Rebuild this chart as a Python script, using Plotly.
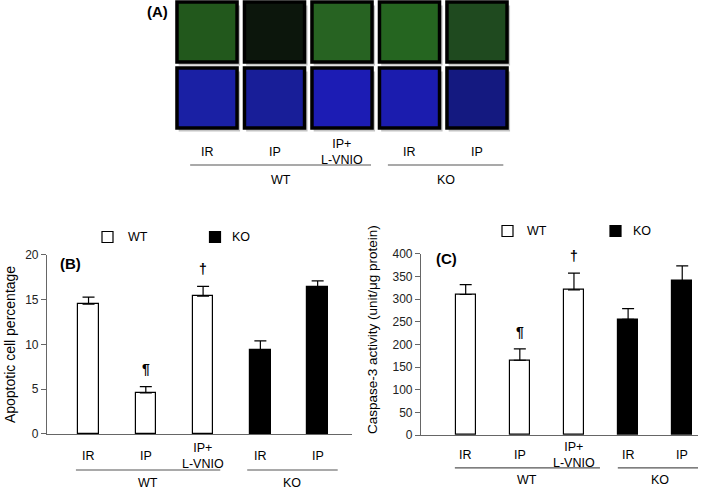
import plotly.graph_objects as go

# panel B / C data
groups = ["IR", "IP", "IP+<br>L-VNIO", "IR", "IP"]
strain = ["WT", "WT", "WT", "KO", "KO"]

apoptosis = [14.5, 4.6, 15.4, 9.4, 16.4]
apoptosis_err = [0.8, 0.7, 1.1, 1.0, 0.7]

caspase = [310, 165, 320, 255, 340]
caspase_err = [22, 25, 37, 24, 33]

# significance marks (bar index, symbol)
marks = [(1, "¶"), (2, "†")]

fills = ["white" if s == "WT" else "black" for s in strain]
FONT = "Liberation Sans, Arial, sans-serif"
xs = list(range(len(groups)))

fig = go.Figure()

fig.add_trace(go.Bar(
    x=xs, y=apoptosis, width=0.36,
    marker=dict(color=fills, line=dict(color="black", width=1.2)),
    error_y=dict(type="data", array=apoptosis_err, arrayminus=[0] * 5, symmetric=False,
                 color="black", thickness=1.2, width=6),
    xaxis="x", yaxis="y", showlegend=False,
))
fig.add_trace(go.Bar(
    x=xs, y=caspase, width=0.37,
    marker=dict(color=fills, line=dict(color="black", width=1.2)),
    error_y=dict(type="data", array=caspase_err, arrayminus=[0] * 5, symmetric=False,
                 color="black", thickness=1.2, width=6),
    xaxis="x2", yaxis="y2", showlegend=False,
))

axis_common = dict(showgrid=False, zeroline=False, showline=True, linecolor="#666",
                   linewidth=1.2, automargin=False,
                   tickfont=dict(family=FONT, size=12, color="#222"))

fig.update_layout(
    width=710, height=491,
    margin=dict(l=0, r=0, t=0, b=0, autoexpand=False),
    paper_bgcolor="white", plot_bgcolor="white",
    bargap=0,
    xaxis=dict(domain=[0.0662, 0.4958], range=[-0.725, 4.6], showticklabels=False,
               ticks="", anchor="y", **axis_common),
    yaxis=dict(domain=[0.1161, 0.4807], range=[0, 20], tickvals=[0, 5, 10, 15, 20],
               ticks="outside", ticklen=5, tickcolor="#666", anchor="x",
               title=dict(text="Apoptotic cell percentage", standoff=6,
                          font=dict(family=FONT, size=14, color="black")),
               **axis_common),
    xaxis2=dict(domain=[0.593, 0.983], range=[-0.825, 4.29], showticklabels=False,
                ticks="", anchor="y2", **axis_common),
    yaxis2=dict(domain=[0.114, 0.4833], range=[0, 400], dtick=50,
                ticks="outside", ticklen=5, tickcolor="#666", anchor="x2",
                **axis_common),
    xaxis3=dict(domain=[0, 1], range=[-3.067, 7.452], visible=False, anchor="y3",
                automargin=False),
    yaxis3=dict(domain=[0.7, 1], range=[0, 1], visible=False, anchor="x3",
                automargin=False),
    font=dict(family=FONT, color="black"),
)

shapes = []
annotations = []
TXT = dict(size=12.5, color="black")

# panel C y-axis title sits a bit above the axis middle in the original
annotations.append(dict(x=372 / 710, y=1 - 330 / 491, xref="paper", yref="paper",
                        text="Caspase-3 activity (unit/μg protein)", textangle=-90,
                        showarrow=False, font=dict(family=FONT, size=13.5, color="black"),
                        xanchor="center", yanchor="middle"))


def label_block(xref, ylab, yline, ygroup, lines):
    for i, g in enumerate(groups):
        annotations.append(dict(x=i, y=ylab, xref=xref, yref="paper", text=g, showarrow=False,
                                font=TXT, xanchor="center", yanchor="middle"))
    for (x0, x1), name in zip(lines, ["WT", "KO"]):
        shapes.append(dict(type="line", xref=xref, yref="paper", x0=x0, x1=x1, y0=yline, y1=yline,
                           line=dict(color="#555", width=1.2)))
        annotations.append(dict(x=(x0 + x1) / 2, y=ygroup, xref=xref, yref="paper", text=name,
                                showarrow=False, font=TXT, xanchor="center", yanchor="middle"))


label_block("x", 0.072, 0.0428, 0.0163, [(-0.22, 2.30), (2.77, 4.35)])
label_block("x2", 0.074, 0.047, 0.022, [(-0.2, 2.48), (2.81, 4.38)])
label_block("x3", 0.69, 0.664, 0.633, [(-0.25, 2.43), (2.68, 4.39)])

# panel A: fluorescence image tiles
green_tiles = ["#22581c", "#0c160c", "#276322", "#256520", "#1f4a1f"]
blue_tiles = ["#1a20a4", "#181e98", "#1c1cb4", "#1b1cae", "#141980"]
rows = [(0.996, 0.8737, green_tiles), (0.8615, 0.7393, blue_tiles)]
for y1, y0, cols in rows:
    for i, c in enumerate(cols):
        shapes.append(dict(type="rect", xref="x3", yref="paper", x0=i - 0.42, x1=i + 0.49,
                           y0=y0 - 0.007, y1=y1 - 0.007, fillcolor="#c4c4c4", line=dict(width=0),
                           layer="below"))
        shapes.append(dict(type="rect", xref="x3", yref="paper", x0=i - 0.445, x1=i + 0.445,
                           y0=y0, y1=y1, fillcolor=c, line=dict(color="black", width=3.5)))

# significance marks
SIG = dict(family=FONT, size=14, color="#000000")
for i, sym in marks:
    annotations.append(dict(x=i, y=apoptosis[i] + apoptosis_err[i] + 0.8, xref="x", yref="y",
                            text=f"<b>{sym}</b>", showarrow=False, font=SIG,
                            xanchor="center", yanchor="bottom"))
    annotations.append(dict(x=i, y=caspase[i] + caspase_err[i] + 16, xref="x2", yref="y2",
                            text=f"<b>{sym}</b>", showarrow=False, font=SIG,
                            xanchor="center", yanchor="bottom"))

# panel letters
for x, y, t in [(157, 12, "(A)"), (70, 263, "(B)"), (446, 258, "(C)")]:
    annotations.append(dict(x=x / 710, y=1 - y / 491, xref="paper", yref="paper", text=f"<b>{t}</b>",
                            showarrow=False, font=dict(size=15, color="black"),
                            xanchor="center", yanchor="middle"))

# legends
for bx_wt, bx_ko, tx_wt, tx_ko, yc in [(107.5, 215, 138, 241, 237), (507.5, 615.5, 537, 642, 231)]:
    for bx, fill in [(bx_wt, "white"), (bx_ko, "black")]:
        shapes.append(dict(type="rect", xref="paper", yref="paper",
                           x0=(bx - 5.5) / 710, x1=(bx + 5.5) / 710,
                           y0=1 - (yc + 5.5) / 491, y1=1 - (yc - 5.5) / 491,
                           fillcolor=fill, line=dict(color="black", width=1.2)))
    for tx, t in [(tx_wt, "WT"), (tx_ko, "KO")]:
        annotations.append(dict(x=tx / 710, y=1 - yc / 491, xref="paper", yref="paper", text=t,
                                showarrow=False, font=TXT, xanchor="center", yanchor="middle"))

fig.update_layout(shapes=shapes, annotations=annotations)
fig.write_html("out.html", post_script="document.body.style.margin='0';",
               config={"displayModeBar": False})
